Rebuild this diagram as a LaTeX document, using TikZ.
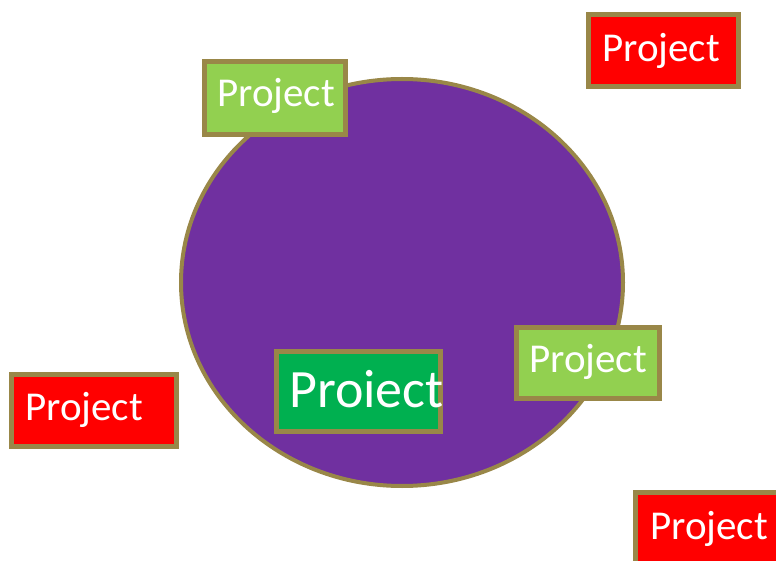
\documentclass[tikz,border=0pt]{standalone}
\usepackage{fontspec}
\newfontfamily\carl{Carlito}
\definecolor{bord}{RGB}{153,135,72}
\definecolor{lgreen}{HTML}{92D050}
\definecolor{dgreen}{HTML}{00B050}
\definecolor{purp}{HTML}{7030A0}
\definecolor{pred}{HTML}{FF0000}
\tikzset{
  box/.style={draw=bord, line width=5pt},
  lbl/.style={anchor=base west, inner sep=0pt, text=white, font=\carl\fontsize{41}{41}\selectfont},
  biglbl/.style={anchor=base west, inner sep=0pt, text=white, font=\carl\fontsize{54}{54}\selectfont}
}
\begin{document}
\begin{tikzpicture}[x=1pt,y=-1pt]
\useasboundingbox (0,0) rectangle (776,561);
\clip (0,0) rectangle (776,561);
\draw[draw=bord, line width=4pt, fill=purp] (402,282.5) ellipse [x radius=221, y radius=203.5];
% top right red
\path[box, fill=pred] (588.5,14.5) rectangle (738.5,86.5);
\node[lbl] (t1) at (602,62) {Project};
% top left light green
\path[box, fill=lgreen] (204.5,61.5) rectangle (345.5,134.5);
\node[lbl] (t2) at (217,107) {Project};
% right light green
\path[box, fill=lgreen] (516.5,327.5) rectangle (659.5,398.5);
\node[lbl] (t3) at (529,372) {Project};
% center dark green
\path[box, fill=dgreen] (276.5,351.5) rectangle (440.5,431.5);
\node[biglbl] (t4) at (289,407) {Proiect};
% left red
\path[box, fill=pred] (11.5,374.5) rectangle (176.5,446.5);
\node[lbl] (t5) at (25,420) {Project};
% bottom right red
\path[box, fill=pred] (635.5,492.5) rectangle (790,580);
\node[lbl] (t6) at (650,539) {Project};
\end{tikzpicture}
\end{document}
